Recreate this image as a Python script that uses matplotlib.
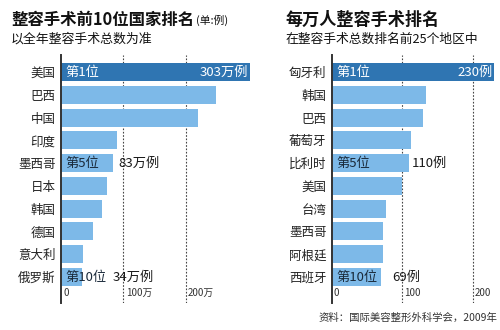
import matplotlib
matplotlib.use("Agg")
import matplotlib.pyplot as plt
import matplotlib.transforms as mtransforms

plt.rcParams['font.family'] = ['Noto Sans CJK SC', 'DejaVu Sans']

# left panel: total surgeries (万例)
left_countries = ["美国", "巴西", "中国", "印度", "墨西哥", "日本", "韩国", "德国", "意大利", "俄罗斯"]
left_values = [303, 248, 219, 89, 83, 73, 65, 52, 35, 34]
left_ticks = [0, 100, 200]
left_ticklabels = ["0", "100万", "200万"]

# right panel: per 10,000 people
right_countries = ["匈牙利", "韩国", "巴西", "葡萄牙", "比利时", "美国", "台湾", "墨西哥", "阿根廷", "西班牙"]
right_values = [230, 133, 129, 112, 110, 99, 77, 73, 72, 69]
right_ticks = [0, 100, 200]
right_ticklabels = ["0", "100", "200"]

DARK = "#2f75b2"
LIGHT = "#7db9e8"
W, H = 500, 330

fig = plt.figure(figsize=(W / 100, H / 100), dpi=100)
fig.patch.set_facecolor("white")


def px_axes(x0, y0, w, h):
    # pixel box measured from top-left
    return fig.add_axes([x0 / W, 1 - (y0 + h) / H, w / W, h / H])


def panel(ax, names, vals, ticks, ticklabels, xmax, marks):
    n = len(vals)
    colors = [DARK] + [LIGHT] * (n - 1)
    ax.barh(range(n), vals, height=0.79, color=colors, zorder=2, clip_on=False)
    ax.set_xlim(0, xmax)
    ax.set_ylim(10.14, -0.75)
    for s in ["top", "right", "bottom"]:
        ax.spines[s].set_visible(False)
    ax.spines["left"].set_linewidth(1.4)
    ax.spines["left"].set_color("#333333")
    ax.set_xticks([])
    ax.set_yticks(range(n))
    ax.set_yticklabels(names, fontsize=9, color="#222222")
    ax.tick_params(axis="y", length=0, pad=4)
    for t in ticks[1:]:
        ax.axvline(t, color="#444444", lw=0.8, ls=(0, (1.5, 1.5)), zorder=1)
    trans = mtransforms.blended_transform_factory(ax.transData, ax.transAxes)
    for t, lab in zip(ticks, ticklabels):
        ax.text(t + xmax * 0.012, 0.02, lab, transform=trans, fontsize=7,
                color="#333333", ha="left", va="bottom")
    # rank labels
    ax.text(xmax * 0.025, 0, "第1位", color="white", fontsize=9.5, va="center", zorder=3)
    ax.text(vals[0] - xmax * 0.01, 0, marks[0], color="white", fontsize=9.5,
            va="center", ha="right", zorder=3)
    ax.text(xmax * 0.025, 4, "第5位", color="#1a2a3a", fontsize=9.5, va="center", zorder=3)
    ax.text(marks[1][1], 4, marks[1][0], color="#1a1a1a", fontsize=9.5, va="center", zorder=3)
    ax.text(xmax * 0.025, 9, "第10位", color="#1a2a3a", fontsize=9.5, va="center", zorder=3)
    ax.text(marks[2][1], 9, marks[2][0], color="#1a1a1a", fontsize=9.5, va="center", zorder=3)


ax1 = px_axes(61, 55, 189, 248)
panel(ax1, left_countries, left_values, left_ticks, left_ticklabels, 303,
      ["303万例", ("83万例", 92), ("34万例", 82)])

ax2 = px_axes(332, 55, 162, 248)
panel(ax2, right_countries, right_values, right_ticks, right_ticklabels, 230,
      ["230例", ("110例", 113), ("69例", 85)])

# titles
t1 = fig.text(11 / W, 1 - 20 / H, "整容手术前10位国家排名", fontsize=11.8, fontweight="bold",
              color="#111111", va="center")
fig.canvas.draw()
bb = t1.get_window_extent(fig.canvas.get_renderer())
fig.text(bb.x1 / W + 2 / W, 1 - 20.5 / H, "(单:例)", fontsize=7.8, color="#111111", va="center")
fig.text(11 / W, 1 - 39 / H, "以全年整容手术总数为准", fontsize=9.3, color="#111111", va="center")

fig.text(286 / W, 1 - 20 / H, "每万人整容手术排名", fontsize=12.3, fontweight="bold",
         color="#111111", va="center")
fig.text(286 / W, 1 - 39 / H, "在整容手术总数排名前25个地区中", fontsize=9.2,
         color="#111111", va="center")

fig.text(497 / W, 1 - 318 / H, "资料：国际美容整形外科学会，2009年", fontsize=7.5,
         color="#333333", ha="right", va="center")

fig.savefig("out.png", dpi=100)
